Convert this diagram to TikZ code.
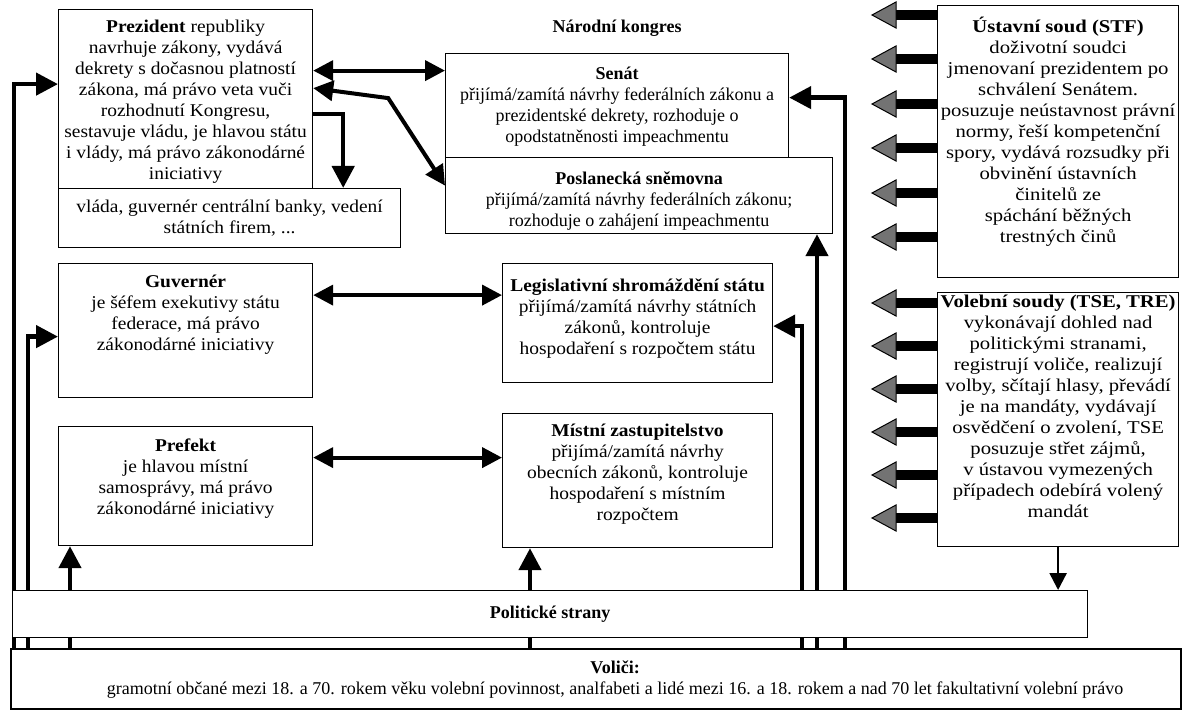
\documentclass[tikz,border=0pt]{standalone}
\usepackage{fontspec}
\setmainfont{Liberation Serif}
\newfontfamily\wideserif{Liberation Serif}[FakeStretch=1.08]
\newfontfamily\widerserif{Liberation Serif}[FakeStretch=1.15]
\usetikzlibrary{arrows.meta}
\pgfdeclarelayer{bg}
\pgfsetlayers{bg,main}
\newcommand{\boxfont}{\fontsize{18}{21}\selectfont}
\tikzset{
    box/.style={draw, fill=white, line width=1.2pt, inner sep=0pt, anchor=north west},
    txt/.style={align=center, inner sep=0pt, anchor=north, font=\boxfont},
    widetxt/.style={txt, font=\wideserif\boxfont},
    widertxt/.style={txt, font=\widerserif\boxfont},
    conn/.style={line width=4.5pt, -{Triangle[length=22pt,width=22pt]}},
    dconn/.style={line width=4pt, {Triangle[length=20pt,width=20pt]}-{Triangle[length=20pt,width=20pt]}},
    tseconn/.style={line width=2.5pt, -{Triangle[length=17pt,width=17pt]}},
    fathead/.style={fill=black!55, draw=black, line width=1pt},
}

\begin{document}
\begin{tikzpicture}[x=1pt, y=-1pt]
            \useasboundingbox (0, 0) rectangle (1186, 711);
            % boxes
            \node[box, minimum width=254, minimum height=179] (pres) at (58, 9) {};
            \node[box, minimum width=342, minimum height=59] (vlada) at (58, 188) {};
            \node[box, minimum width=343, minimum height=104] (senat) at (445, 53) {};
            \node[box, minimum width=387, minimum height=76] (posl) at (445, 157) {};
            \node[box, minimum width=241, minimum height=272] (stf) at (937, 5) {};
            \node[box, minimum width=241, minimum height=254] (tse) at (937, 292) {};
            \node[box, minimum width=254, minimum height=134] (guv) at (58, 263) {};
            \node[box, minimum width=254, minimum height=119] (pref) at (58, 426) {};
            \node[box, minimum width=270, minimum height=119] (legis) at (502, 263) {};
            \node[box, minimum width=270, minimum height=134] (mistni) at (502, 413) {};
            \node[box, minimum width=1075, minimum height=47] (strany) at (12, 590) {};
            \node[box, minimum width=1170, minimum height=60, line width=2.2pt] (vol) at (10, 648) {};

            % texts
            \node[widetxt] (prestext) at ([yshift=-11]pres.north) {\textbf{Prezident} republiky\\navrhuje zákony, vydává\\dekrety s dočasnou platností\\zákona, má právo veta vuči\\rozhodnutí Kongresu,\\sestavuje vládu, je hlavou státu\\i vlády, má právo zákonodárné\\iniciativy};
            \node[widetxt] (vladatext) at ([yshift=-12]vlada.north) {vláda, guvernér centrální banky, vedení\\státních firem, ...};
            \node[txt, anchor=center, font=\boxfont\bfseries] (kongres) at ([yshift=25]senat.north) {Národní kongres};
            \node[txt] (senattext) at ([yshift=-14]senat.north) {\textbf{Senát}\\přijímá/zamítá návrhy federálních zákonu a\\prezidentské dekrety, rozhoduje o\\opodstatněnosti impeachmentu};
            \node[txt] (posltext) at ([yshift=-15]posl.north) {\textbf{Poslanecká sněmovna}\\přijímá/zamítá návrhy federálních zákonu;\\rozhoduje o zahájení impeachmentu};
            \node[widertxt] (stftext) at ([yshift=-12]stf.north) {\textbf{Ústavní soud (STF)}\\doživotní soudci\\jmenovaní prezidentem po\\schválení Senátem.\\posuzuje neústavnost právní\\normy, řeší kompetenční\\spory, vydává rozsudky při\\obvinění ústavních\\činitelů ze\\spáchání běžných\\trestných činů};
            \node[widertxt] (tsetext) at ([yshift=-3]tse.north) {\textbf{Volební soudy (TSE, TRE)}\\vykonávají dohled nad\\politickými stranami,\\registrují voliče, realizují\\volby, sčítají hlasy, převádí\\je na mandáty, vydávají\\osvědčení o zvolení, TSE\\posuzuje střet zájmů,\\v ústavou vymezených\\případech odebírá volený\\mandát};
            \node[widetxt] (guvtext) at ([yshift=-12]guv.north) {\textbf{Guvernér}\\je šéfem exekutivy státu\\federace, má právo\\zákonodárné iniciativy};
            \node[widetxt] (preftext) at ([yshift=-13]pref.north) {\textbf{Prefekt}\\je hlavou místní\\samosprávy, má právo\\zákonodárné iniciativy};
            \node[widetxt] (legistext) at ([yshift=-16]legis.north) {\textbf{Legislativní shromáždění státu}\\přijímá/zamítá návrhy státních\\zákonů, kontroluje\\hospodaření s rozpočtem státu};
            \node[widetxt] (mistnitext) at ([yshift=-11]mistni.north) {\textbf{Místní zastupitelstvo}\\přijímá/zamítá návrhy\\obecních zákonů, kontroluje\\hospodaření s místním\\rozpočtem};
            \node[txt, anchor=center, font=\boxfont\bfseries] (stranytext) at (strany.center) {Politické strany};
            \node[txt, anchor=center] (voltext) at ([xshift=19]vol.center) {\textbf{Voliči:}\\gramotní občané mezi 18. a 70. rokem věku volební povinnost, analfabeti a lidé mezi 16. a 18. rokem a nad 70 let fakultativní volební právo};

            % feet of the lines on the voters box
            \coordinate (v1) at ([xshift=4]vol.north west);
            \coordinate (v2) at ([xshift=18]vol.north west);
            \coordinate (v3) at ([xshift=60]vol.north west);
            \coordinate (v4) at ([xshift=520]vol.north west);
            \coordinate (v5) at ([xshift=792]vol.north west);
            \coordinate (v6) at ([xshift=807]vol.north west);
            \coordinate (v7) at ([xshift=835]vol.north west);
            \coordinate (ps) at ([yshift=35]senat.west);
            \coordinate (gl) at ([yshift=28]legis.west);
            \coordinate (pm) at ([yshift=23]mistni.west);

            \begin{pgfonlayer}{bg}
                \draw[conn] (v1) |- ([yshift=15]pres.west);
                \draw[conn] (v2) |- ([yshift=-6]guv.west);
                \draw[conn] (v3) -- (v3 |- pref.south);
                \draw[conn] (v4) -- (v4 |- mistni.south);
                \draw[conn] (v5) |- ([yshift=-3]legis.east);
                \draw[conn] (v6) -- (v6 |- posl.south);
                \draw[conn] (v7) |- ([yshift=8]senat.east);
                \draw[conn] ([yshift=-15]pres.east) -| ([xshift=-58]vlada.north east);
                \draw[dconn] (ps -| pres.east) -- (ps);
                \draw[dconn] ([yshift=11]pres.east) -- ++(75, 10) -- ([yshift=10]posl.west);
                \draw[dconn] (gl -| guv.east) -- (gl);
                \draw[dconn] (pm -| pref.east) -- (pm);
                \draw[tseconn] (tse.south) -- (tse.south |- strany.north);
                % fat arrows of the courts
                \foreach \y in {15, 59, 104, 148, 193, 237, 303, 346, 389, 432, 475, 518} {
                    \fill (894, \y-5) rectangle (937, \y+5);
                    \filldraw[fathead] (896, \y-13) -- (872, \y) -- (896, \y+13) -- cycle;
                }
            \end{pgfonlayer}
        \end{tikzpicture}
\end{document}
